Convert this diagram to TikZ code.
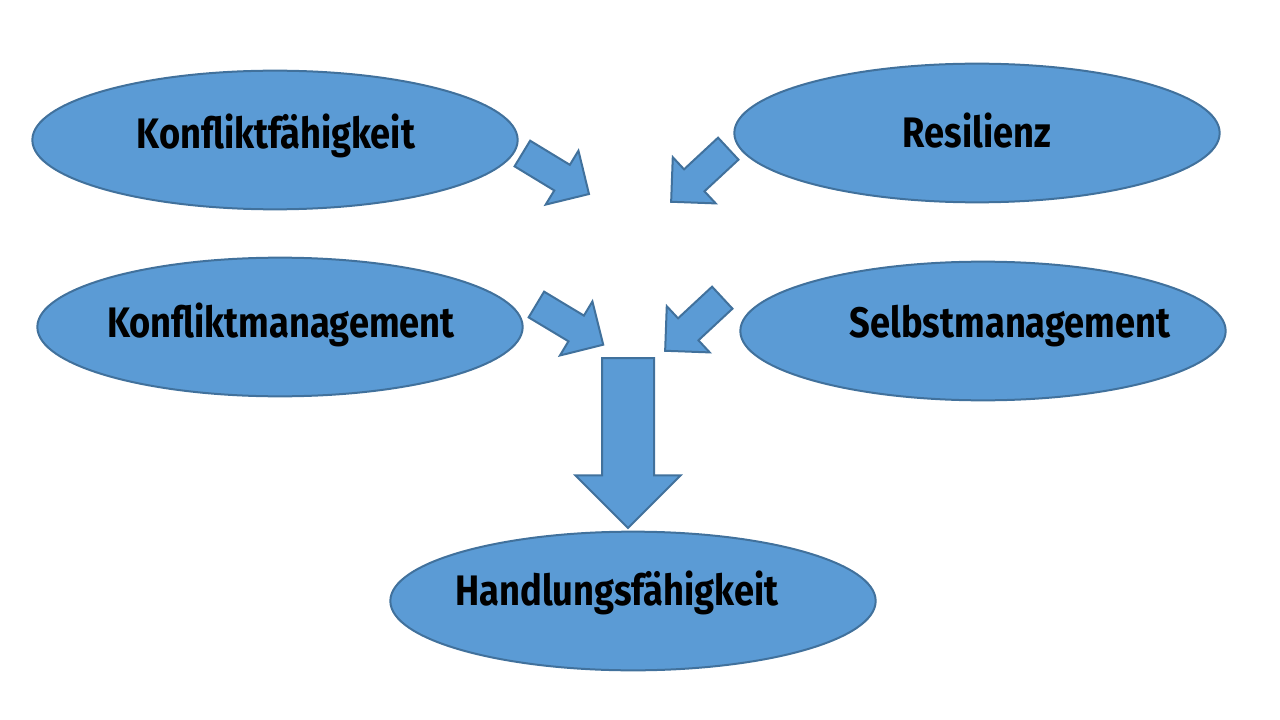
\documentclass[tikz,border=0pt]{standalone}
\usepackage{fontspec}
\usepackage{tikz}
\usetikzlibrary{shapes.geometric,shapes.arrows,positioning}
\newfontfamily\lblfont{Fira Sans}[FakeStretch=0.85]
\definecolor{clrFill}{HTML}{5B9BD5}
\definecolor{clrLine}{HTML}{41719C}
\tikzset{
  kompetenz/.style={ellipse, draw=clrLine, fill=clrFill, line width=1.5pt,
    minimum width=364pt, minimum height=104pt, inner sep=0pt},
  lbl/.style={anchor=base, font=\lblfont\bfseries\fontsize{32}{36}\selectfont,
    text=black, inner sep=0pt},
  pfeil/.style={single arrow, draw=clrLine, fill=clrFill, line width=1.5pt,
    anchor=tail, inner xsep=0pt, inner ysep=10.5pt,
    single arrow head extend=12.4pt, single arrow tip angle=90,
    minimum height=58.5pt},
  hauptpfeil/.style={pfeil, inner ysep=18.75pt,
    single arrow head extend=19.9pt, minimum height=127.5pt},
}

\begin{document}
\begin{tikzpicture}[x=0.75pt, y=-0.75pt]
\useasboundingbox (0,0) rectangle (1280,720);

% ── ellipses ───────────────────────────────────────────────────────────────
\node[kompetenz] (kfaeh)  at (275, 140) {};
\node[kompetenz] (resil)  at (977, 133) {};
\node[kompetenz] (kmgmt)  at (280, 327) {};
\node[kompetenz] (selbst) at (983, 331) {};
\node[kompetenz] (handl)  at (633, 601) {};

% ── labels ─────────────────────────────────────────────────────────────────
\node[lbl] (tkfaeh)  at (276, 149) {Konfliktfähigkeit};
\node[lbl] (tresil)  at (977, 148) {Resilienz};
\node[lbl] (tkmgmt)  at (281, 337) {Konfliktmanagement};
\node[lbl] (tselbst) at (1010, 337) {Selbstmanagement};
\node[lbl] (thandl)  at (617, 605) {Handlungsfähigkeit};

% ── block arrows ───────────────────────────────────────────────────────────
\node[pfeil, rotate=-31.3]  (p1) at (521.5, 153) {};
\node[pfeil, rotate=-137.1] (p2) at (729, 148) {};
\node[pfeil, rotate=-31.0]  (p3) at (535.5, 304) {};
\node[pfeil, rotate=-137.1] (p4) at (723, 297) {};
\node[hauptpfeil, rotate=-90] (p5) at (628, 357) {};

\end{tikzpicture}
\end{document}
